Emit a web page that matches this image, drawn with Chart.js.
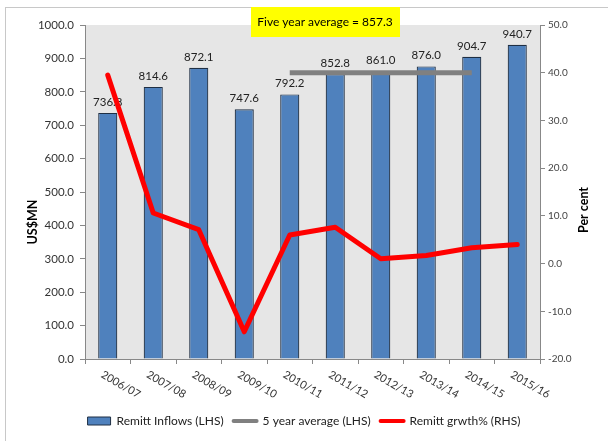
<!DOCTYPE html>
<html>
<head>
<meta charset="utf-8">
<script src="https://cdn.jsdelivr.net/npm/chart.js@4"></script>
<style>
  html, body { margin: 0; padding: 0; background: #fff; }
  #wrap { width: 608px; height: 441px; }
</style>
</head>
<body>
<div id="wrap"><canvas id="chart" width="608" height="441"></canvas></div>
<script>
const years = ['2006/07', '2007/08', '2008/09', '2009/10', '2010/11', '2011/12', '2012/13', '2013/14', '2014/15', '2015/16'];
const inflows = [736.8, 814.6, 872.1, 747.6, 792.2, 852.8, 861.0, 876.0, 904.7, 940.7];
const fiveYearAvg = [null, null, null, null, 857.3, 857.3, 857.3, 857.3, 857.3, null];
const growth = [39.5, 10.6, 7.1, -14.3, 6.0, 7.6, 1.0, 1.7, 3.3, 4.0];
const avgText = 'Five year average = 857.3';

const FONT = 'Lato, "Liberation Sans", sans-serif';

// fond, bordure, encadre jaune, titres des axes, etiquettes
const decor = {
    id: 'decor',
    beforeDraw(chart) {
        const { ctx, chartArea: a } = chart;
        ctx.save();
        ctx.fillStyle = '#fff';
        ctx.fillRect(0, 0, chart.width, chart.height);
        ctx.strokeStyle = '#c8c8c8';
        ctx.lineWidth = 1;
        ctx.strokeRect(5.5, 7.5, chart.width + 10, chart.height + 10);
        ctx.fillStyle = '#e6e6e6';
        ctx.fillRect(a.left, a.top, a.right - a.left, a.bottom - a.top);
        ctx.restore();
    },
    afterDatasetDraw(chart, args) {
        if (args.index !== 0) return;
        const { ctx } = chart;
        ctx.save();
        ctx.font = '11.5px ' + FONT;
        ctx.fillStyle = '#222';
        ctx.textAlign = 'center';
        ctx.textBaseline = 'bottom';
        args.meta.data.forEach((bar, i) => {
            ctx.fillText(inflows[i].toFixed(1), bar.x, bar.y - 5);
        });
        ctx.restore();
    },
    afterDraw(chart) {
        const { ctx, chartArea: a } = chart;
        const xs = chart.scales.x;
        ctx.save();
        // x labels en diagonale
        ctx.font = '11px ' + FONT;
        ctx.fillStyle = '#333';
        ctx.textAlign = 'left';
        ctx.textBaseline = 'top';
        years.forEach((y, i) => {
            const x = xs.getPixelForValue(i);
            ctx.save();
            ctx.translate(x - 3, a.bottom + 10);
            ctx.rotate(30 * Math.PI / 180);
            ctx.fillText(y, 0, 0);
            ctx.restore();
        });
        // titres des axes
        ctx.font = 'bold 12.5px ' + FONT;
        ctx.fillStyle = '#000';
        ctx.textAlign = 'center';
        ctx.textBaseline = 'middle';
        ctx.save();
        ctx.translate(33, 222);
        ctx.rotate(-Math.PI / 2);
        ctx.fillText('US$MN', 0, 0);
        ctx.restore();
        ctx.save();
        ctx.translate(584, 210);
        ctx.rotate(-Math.PI / 2);
        ctx.fillText('Per cent', 0, 0);
        ctx.restore();
        // encadre jaune
        ctx.fillStyle = '#ffff00';
        ctx.fillRect(251, 7, 149, 30);
        ctx.font = '12px ' + FONT;
        ctx.fillStyle = '#000';
        ctx.textAlign = 'center';
        ctx.fillText(avgText, 325, 22);
        ctx.restore();
    }
};

new Chart(document.getElementById('chart'), {
    type: 'bar',
    data: {
        labels: years,
        datasets: [{
            label: 'Remitt Inflows (LHS)',
            data: inflows,
            backgroundColor: '#4f81bd',
            borderColor: '#1f2f44',
            borderWidth: 1.2,
            categoryPercentage: 1,
            barPercentage: 0.42,
            yAxisID: 'y',
            order: 3
        }, {
            type: 'line',
            label: '5 year average (LHS)',
            data: fiveYearAvg,
            borderColor: '#808080',
            backgroundColor: '#808080',
            borderWidth: 5,
            pointRadius: 0,
            tension: 0,
            yAxisID: 'y',
            order: 2
        }, {
            type: 'line',
            label: 'Remitt grwth% (RHS)',
            data: growth,
            borderColor: '#ff0000',
            backgroundColor: '#ff0000',
            borderWidth: 5,
            pointRadius: 0,
            tension: 0,
            borderCapStyle: 'round',
            borderJoinStyle: 'round',
            yAxisID: 'y1',
            order: 1
        }]
    },
    options: {
        responsive: false,
        animation: false,
        layout: { padding: { top: 25, left: 0, right: 0, bottom: 4 } },
        plugins: {
            tooltip: { enabled: false },
            legend: {
                position: 'bottom',
                labels: {
                    usePointStyle: true,
                    pointStyleWidth: 23,
                    boxHeight: 8,
                    padding: 10,
                    color: '#222',
                    font: { family: FONT, size: 12 },
                    generateLabels(chart) {
                        const items = Chart.defaults.plugins.legend.labels.generateLabels(chart);
                        items.sort((p, q) => p.datasetIndex - q.datasetIndex);
                        items.forEach(it => {
                            if (it.datasetIndex === 0) {
                                it.pointStyle = 'rect';
                                it.lineWidth = 1;
                                it.strokeStyle = '#1f2f44';
                            } else {
                                it.pointStyle = 'line';
                                it.lineWidth = 4;
                                it.lineCap = 'round';
                            }
                        });
                        return items;
                    }
                }
            }
        },
        scales: {
            x: {
                grid: { offset: true, drawOnChartArea: false, tickLength: 5, color: '#888' },
                border: { color: '#888' },
                ticks: { display: false },
                afterFit(s) { s.height = 46; }
            },
            y: {
                position: 'left',
                min: 0,
                max: 1000,
                ticks: {
                    stepSize: 100,
                    padding: 6,
                    color: '#333',
                    font: { family: FONT, size: 11.5 },
                    callback: v => v.toFixed(1)
                },
                grid: { drawOnChartArea: false, tickLength: 5, color: '#888' },
                border: { color: '#888' },
                afterFit(s) { s.width = 85; }
            },
            y1: {
                position: 'right',
                min: -20,
                max: 50,
                ticks: {
                    stepSize: 10,
                    padding: 3,
                    color: '#444',
                    font: { family: FONT, size: 10 },
                    callback: v => v.toFixed(1)
                },
                grid: { drawOnChartArea: false, tickLength: 5, color: '#888' },
                border: { color: '#888' },
                afterFit(s) { s.width = 68; }
            }
        }
    },
    plugins: [decor]
});
</script>
</body>
</html>
